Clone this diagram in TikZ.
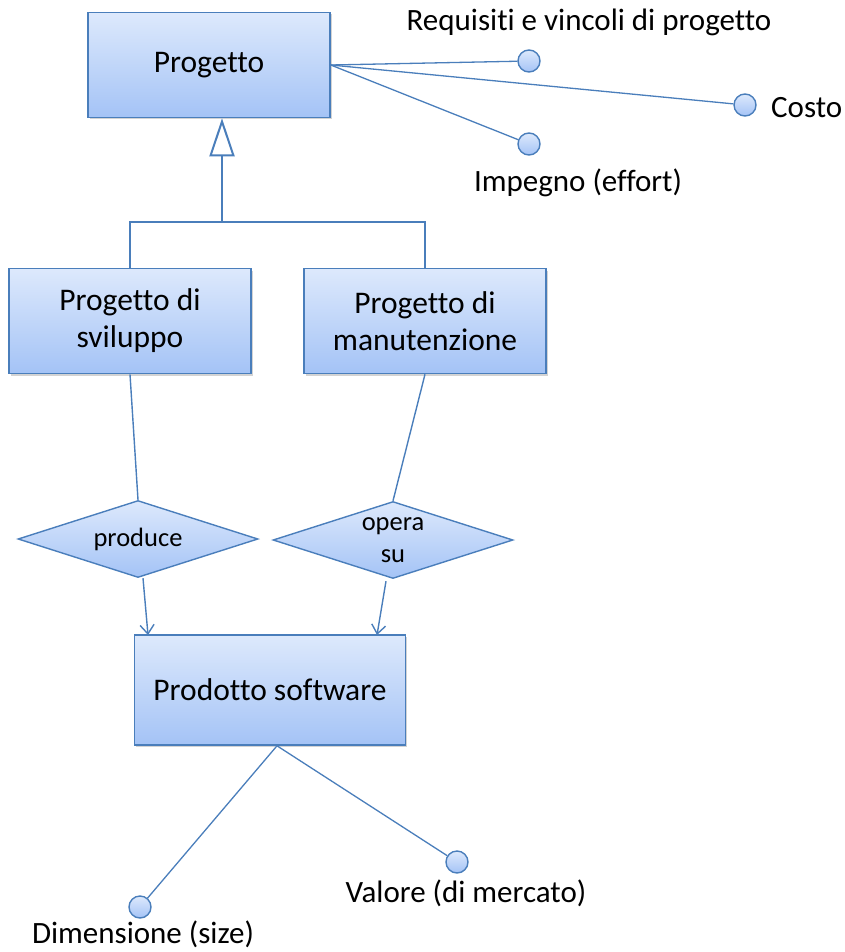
\documentclass[tikz,border=0pt]{standalone}
\usepackage{fontspec}
\setmainfont{Carlito}[Ligatures=NoCommon]
\usetikzlibrary{shapes.geometric,arrows.meta,shadows}
\definecolor{umlline}{HTML}{4A7EBB}
\definecolor{umltop}{HTML}{DDE9FC}
\definecolor{umlbot}{HTML}{A4C3F6}

\begin{document}
\begin{tikzpicture}[x=1pt,y=-1pt,
    entity/.style={draw=umlline, line width=1.6pt, top color=umltop, bottom color=umlbot,
        minimum width=242pt, minimum height=105pt, align=center, inner sep=0pt,
        font=\fontsize{31.5}{37}\selectfont,
        drop shadow={opacity=0.35, shadow xshift=1.5pt, shadow yshift=-2pt}},
    relation/.style={diamond, aspect=3.1, draw=umlline, line width=1.4pt, top color=umltop, bottom color=umlbot,
        minimum width=240pt, minimum height=77pt, inner sep=0pt, align=center,
        font=\fontsize{26.5}{32}\selectfont},
    attrib/.style={circle, draw=umlline, line width=1.4pt, top color=umltop, bottom color=umlbot,
        minimum size=22pt, inner sep=0pt},
    attrtext/.style={font=\fontsize{31}{36}\selectfont, inner sep=0pt},
    attrline/.style={draw=umlline, line width=1.3pt},
    genline/.style={draw=umlline, line width=2pt},
    relline/.style={draw=umlline, line width=1.4pt}]
    \useasboundingbox (0,0) rectangle (845,952);

    % entities
    \node[entity] (prog) at (209,65) {Progetto};
    \node[entity] (svil) at (130,321) {Progetto di\\sviluppo};
    \node[entity] (manu) at (425,321) {Progetto di\\manutenzione};
    \node[entity, minimum width=271pt, minimum height=110pt] (sw) at (270,690) {Prodotto software};

    % relations
    \node[relation] (prodc) at (138,539) {produce};
    \node[relation] (opsu) at (393,540) {opera\\su};

    % attributes
    \node[attrib] (req) at (529,61) {};
    \node[attrib] (cost) at (745,105) {};
    \node[attrib] (imp) at (529,144) {};
    \node[attrib] (dim) at (140,907) {};
    \node[attrib] (val) at (457,862) {};
    \node[attrtext] (reqt) at (589,22) {Requisiti e vincoli di progetto};
    \node[attrtext, anchor=west] (costt) at (771,108) {Costo};
    \node[attrtext] (impt) at (578,183) {Impegno (effort)};
    \node[attrtext] (dimt) at (143,934) {Dimensione (size)};
    \node[attrtext] (valt) at (466,893) {Valore (di mercato)};

    \draw[attrline] (prog.east) -- (req);
    \draw[attrline] (prog.east) -- (cost);
    \draw[attrline] (prog.east) -- (imp);
    \draw[attrline] ([xshift=7pt]sw.south) -- (dim);
    \draw[attrline] ([xshift=7pt]sw.south) -- (val);

    % generalisation
    \coordinate (join) at (222,222);
    \draw[genline] (svil.north) |- (join) -| (manu.north);
    \draw[genline, -{Triangle[open, fill=white, length=38pt, width=25pt]}] (join) -- ([xshift=13pt]prog.south);

    % relations to entities
    \coordinate (swin1) at (148,635);
    \coordinate (swin2) at (377,635);
    \draw[relline] (svil.south) -- (prodc.north);
    \draw[relline] (manu.south) -- (opsu.north);
    \draw[relline, -{Straight Barb[length=9pt, width=14pt]}] ([xshift=5pt]prodc.south) -- (swin1);
    \draw[relline, -{Straight Barb[length=9pt, width=14pt]}] ([xshift=-7pt,yshift=-2pt]opsu.south) -- (swin2);
\end{tikzpicture}
\end{document}
